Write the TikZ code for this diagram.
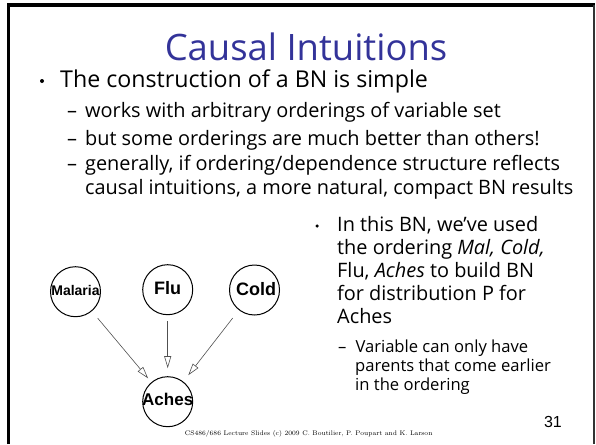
\documentclass[tikz,border=0pt]{standalone}
\usepackage{fontspec}
\usetikzlibrary{arrows.meta}
\newfontfamily\slidefont[Ligatures=NoCommon]{Open Sans}
\newfontfamily\graphfont{Liberation Sans}
\definecolor{titleblue}{RGB}{51,51,153}
\definecolor{edgegray}{RGB}{80,80,80}

\tikzset{
  slidetitle/.style={font=\slidefont\fontsize{36.4}{36.4}\selectfont, text=titleblue, anchor=base, inner sep=0pt},
  mainitem/.style={font=\slidefont\fontsize{23.2}{23.2}\selectfont, anchor=base west, inner sep=0pt},
  subitem/.style={font=\slidefont\fontsize{19.9}{19.9}\selectfont, anchor=base west, inner sep=0pt},
  sideitem/.style={font=\slidefont\fontsize{19.9}{19.9}\selectfont, anchor=base west, inner sep=0pt},
  sidesub/.style={font=\slidefont\fontsize{16.6}{16.6}\selectfont, anchor=base west, inner sep=0pt},
  dot/.style={circle, fill=black, inner sep=0pt, minimum size=#1},
  var/.style={circle, draw=black, line width=1pt, minimum size=50pt, inner sep=0pt},
  varname/.style={font=\graphfont\bfseries\fontsize{#1}{#1}\selectfont, inner sep=0pt},
  edge/.style={draw=edgegray, line width=0.6pt,
    -{Triangle[open, length=12pt, width=7pt, fill=white, line width=0.6pt]}},
}

\begin{document}
\begin{tikzpicture}[x=1pt, y=-1pt]
\useasboundingbox (0,0) rectangle (596,444);

% slide frame
\coordinate (fbl) at (8.3,444);
\coordinate (ftl) at (8.3,5);
\coordinate (ftr) at (594.2,5);
\coordinate (fbr) at (594.2,444);
\draw[line width=3.3pt] (fbl) -- (ftl) -- ([xshift=0.75pt]ftr);
\draw[line width=1.5pt, draw=black!80] (ftr) -- (fbr);

% title
\node[slidetitle] (title) at (306,60) {Causal Intuitions};

% main bullet and sub items
\node[dot=4pt] (b1) at (42,81) {};
\node[mainitem] (l1) at (60,87) {The construction of a BN is simple};
\node[subitem] (l2) at (67,117) {–\hspace{8pt}works with arbitrary orderings of variable set};
\node[subitem] (l3) at (67,145) {–\hspace{8pt}but some orderings are much better than others!};
\node[subitem] (l4) at (67,170) {–\hspace{8pt}generally, if ordering/dependence structure reflects};
\node[subitem] (l5) at (85,194) {causal intuitions, a more natural, compact BN results};

% right column
\node[dot=3.5pt] (b2) at (317,226) {};
\node[sideitem] (r1) at (337,231) {In this BN, we’ve used};
\node[sideitem] (r2) at (337,254) {the ordering \textit{Mal, Cold,}};
\node[sideitem] (r3) at (337,277) {Flu, \textit{Aches} to build BN};
\node[sideitem] (r4) at (337,300) {for distribution P for};
\node[sideitem] (r5) at (337,323) {Aches};
\node[sidesub] (s1) at (338,352) {–\hspace{9pt}Variable can only have};
\node[sidesub] (s2) at (355,371) {parents that come earlier};
\node[sidesub] (s3) at (355,390) {in the ordering};

% Bayesian network
\node[var] (mal) at (75.5,291.7) {};
\node[var] (flu) at (167.7,289.7) {};
\node[var] (cold) at (254.5,290) {};
\node[var] (aches) at (167.7,401.7) {};
\node[varname=14] (malname) at ([yshift=1pt]mal) {Malaria};
\node[varname=18] (fluname) at ([yshift=2pt]flu) {Flu};
\node[varname=18] (coldname) at ([xshift=1.5pt,yshift=1pt]cold) {Cold};
\node[varname=17] (achesname) at ([yshift=2pt]aches) {Aches};

\draw[edge, shorten <=9pt, shorten >=5pt] (mal) -- (aches);
\draw[edge, shorten <=6pt, shorten >=8pt] (flu) -- (aches);
\draw[edge, shorten <=10pt, shorten >=8pt] (cold) -- (aches);

% page number and footer
\node[font=\graphfont\fontsize{16}{16}\selectfont, anchor=base east, inner sep=0pt] (page) at (562,427) {31};
\node[font=\fontsize{6.65}{6.65}\selectfont, anchor=base, inner sep=0pt] (foot) at (308.7,435)
  {CS486/686 Lecture Slides (c) 2009 C. Boutilier, P. Poupart and K. Larson};
\end{tikzpicture}
\end{document}
